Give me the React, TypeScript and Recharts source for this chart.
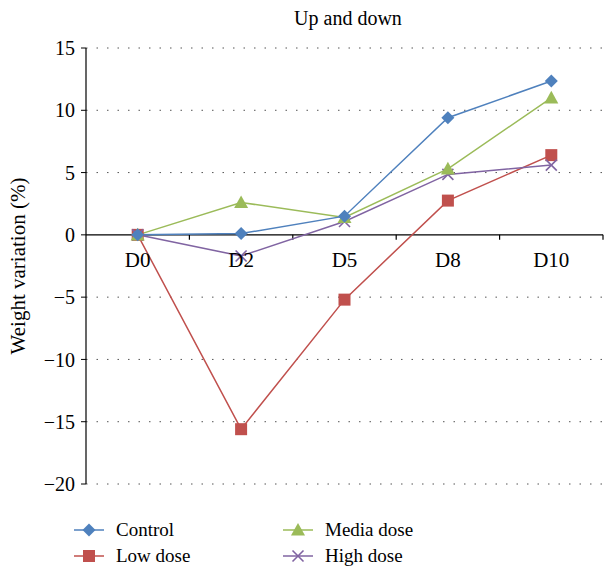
import React from 'react';
import {
  LineChart, Line, XAxis, YAxis, CartesianGrid, ReferenceLine, ReferenceDot,
} from 'recharts';

const categories = ['D0', 'D2', 'D5', 'D8', 'D10'];
const control = [0, 0.1, 1.5, 9.4, 12.35];
const lowDose = [0, -15.6, -5.2, 2.75, 6.4];
const mediaDose = [0, 2.6, 1.4, 5.3, 11.0];
const highDose = [0, -1.7, 1.07, 4.85, 5.6];
const yTicks = [-20, -15, -10, -5, 0, 5, 10, 15];

const data = categories.map((c, i) => ({
  idx: i,
  name: c,
  control: control[i],
  low: lowDose[i],
  media: mediaDose[i],
  high: highDose[i],
}));

const FONT = '"Liberation Serif", "DejaVu Serif", serif';

const COLORS = {
  control: '#4F81BD',
  low: '#C0504D',
  media: '#9BBB59',
  high: '#8064A2',
};

const Diamond = (p: any) => {
  const { cx, cy } = p;
  if (cx == null || cy == null) return null;
  const s = 6.5;
  return <path d={`M${cx},${cy - s}L${cx + s},${cy}L${cx},${cy + s}L${cx - s},${cy}Z`} fill={COLORS.control} />;
};
const Square = (p: any) => {
  const { cx, cy } = p;
  if (cx == null || cy == null) return null;
  const s = 6;
  return <rect x={cx - s} y={cy - s} width={2 * s} height={2 * s} fill={COLORS.low} />;
};
const Triangle = (p: any) => {
  const { cx, cy } = p;
  if (cx == null || cy == null) return null;
  const s = 7;
  return <path d={`M${cx},${cy - s}L${cx + s},${cy + s * 0.8}L${cx - s},${cy + s * 0.8}Z`} fill={COLORS.media} />;
};
const Cross = (p: any) => {
  const { cx, cy } = p;
  if (cx == null || cy == null) return null;
  const s = 5.5;
  return (
    <g stroke={COLORS.high} strokeWidth={1.6}>
      <line x1={cx - s} y1={cy - s} x2={cx + s} y2={cy + s} />
      <line x1={cx - s} y1={cy + s} x2={cx + s} y2={cy - s} />
    </g>
  );
};

const legendItems = [
  { label: 'Control', color: COLORS.control, Mark: Diamond },
  { label: 'Media dose', color: COLORS.media, Mark: Triangle },
  { label: 'Low dose', color: COLORS.low, Mark: Square },
  { label: 'High dose', color: COLORS.high, Mark: Cross },
];

const LegendContent = () => (
  <div style={{ display: 'grid', gridTemplateColumns: '209px 200px', rowGap: 2, fontFamily: FONT, fontSize: 19 }}>
    {legendItems.map((it) => (
      <div key={it.label} style={{ display: 'flex', alignItems: 'center', height: 24 }}>
        <svg width={42} height={16}>
          <line x1={0} y1={8} x2={30} y2={8} stroke={it.color} strokeWidth={1.5} />
          <it.Mark cx={15} cy={8} />
        </svg>
        <span style={{ color: '#000' }}>{it.label}</span>
      </div>
    ))}
  </div>
);

export default function App() {
  return (
    <div style={{ width: 610, height: 568, position: 'relative', background: '#fff', fontFamily: FONT }}>
      <style>{'body{margin:0}'}</style>
      <div style={{ position: 'absolute', top: 7, left: 0, width: 696, textAlign: 'center', fontFamily: FONT, fontSize: 20 }}>
        Up and down
      </div>
      <LineChart width={610} height={568} data={data} margin={{ top: 48, right: 7, bottom: 84, left: 0 }} style={{ fontFamily: FONT }}>
        <CartesianGrid vertical={false} stroke="#555" strokeDasharray="1.5 9" horizontalValues={[-20, -15, -10, -5, 5, 10, 15]} />
        <XAxis type="number" dataKey="idx" domain={[-0.5, 4.5]} hide />
        <YAxis
          type="number"
          domain={[-20, 15]}
          ticks={yTicks}
          width={86}
          axisLine={{ stroke: '#000', strokeWidth: 1.2 }}
          tickLine={{ stroke: '#000' }}
          tickSize={5}
          tickMargin={6}
          tick={{ fill: '#000', fontFamily: FONT, fontSize: 20 }}
          tickFormatter={(v: number) => (v < 0 ? `\u2212${Math.abs(v)}` : `${v}`)}
          label={{ value: 'Weight variation (%)', angle: -90, position: 'insideLeft', offset: 18, style: { textAnchor: 'middle', fontFamily: FONT, fontSize: 21, fill: '#000' } }}
        />
        <ReferenceLine y={0} stroke="#000" strokeWidth={1.2} />
        {[0.5, 1.5, 2.5, 3.5, 4.5].map((b) => (
          <ReferenceLine key={b} segment={[{ x: b, y: 0 }, { x: b, y: -0.4 }]} stroke="#000" strokeWidth={1.2} />
        ))}
        {categories.map((c, i) => (
          <ReferenceDot key={c} x={i} y={0} r={0} fill="none" stroke="none"
            label={{ value: c, position: 'bottom', offset: 17, fill: '#000', fontFamily: FONT, fontSize: 21 }} />
        ))}
        <Line dataKey="low" stroke={COLORS.low} strokeWidth={1.5} dot={<Square />} isAnimationActive={false} />
        <Line dataKey="high" stroke={COLORS.high} strokeWidth={1.5} dot={<Cross />} isAnimationActive={false} />
        <Line dataKey="media" stroke={COLORS.media} strokeWidth={1.5} dot={<Triangle />} isAnimationActive={false} />
        <Line dataKey="control" stroke={COLORS.control} strokeWidth={1.5} dot={<Diamond />} isAnimationActive={false} />
      </LineChart>
      <div style={{ position: 'absolute', left: 74, top: 518 }}>
        <LegendContent />
      </div>
    </div>
  );
}
